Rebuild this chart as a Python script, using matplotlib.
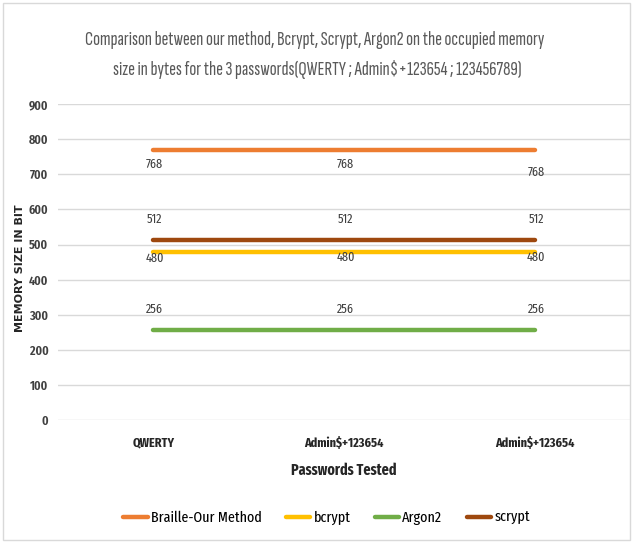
import matplotlib.pyplot as plt
from matplotlib.patches import Rectangle

plt.rcParams['font.family'] = ['Fira Sans Extra Condensed', 'DejaVu Sans']

passwords = ["QWERTY", "Admin$+123654", "Admin$+123654"]
braille = [768, 768, 768]
bcrypt = [480, 480, 480]
argon2 = [256, 256, 256]
scrypt = [512, 512, 512]

series = [
    ("Braille-Our Method", braille, "#ED7D31"),
    ("bcrypt", bcrypt, "#FFC000"),
    ("Argon2", argon2, "#70AD47"),
    ("scrypt", scrypt, "#9E480E"),
]
# data label offsets in points (dy) per series, per point
label_dy = {
    "Braille-Our Method": [-10, -10, -16],
    "bcrypt": [-5, -4, -4],
    "Argon2": [15, 15, 15],
    "scrypt": [15, 15, 15],
}

fig = plt.figure(figsize=(6.34, 5.42), dpi=100)
fig.patches.append(Rectangle((0.004, 0.004), 0.99, 0.99, transform=fig.transFigure,
                             fill=False, edgecolor="#d9d9d9", linewidth=1))
ax = fig.add_axes([0.0915, 0.225, 0.9025, 0.583])

x = list(range(len(passwords)))
handles = []
for name, vals, col in series:
    l, = ax.plot(x, vals, color=col, linewidth=3.2, solid_capstyle="round", label=name, zorder=3)
    handles.append(l)
    for i, v in enumerate(vals):
        ax.annotate(str(v), (i, v), xytext=(1, label_dy[name][i]), textcoords="offset points",
                    ha="center", va="center", fontsize=9.5, color="#404040", zorder=4)

ax.set_xlim(-0.5, 2.5)
ax.set_ylim(0, 900)
ax.set_yticks(range(0, 1000, 100))
ax.set_xticks(x)
ax.set_xticklabels(passwords, fontsize=9.5, fontweight="bold", color="#262626")
ax.tick_params(axis="y", labelsize=9.5, labelcolor="#404040", length=0, pad=7)
ax.tick_params(axis="x", length=0, pad=12)
for lab in ax.get_yticklabels():
    lab.set_fontweight("semibold")
ax.grid(axis="y", color="#d9d9d9", linewidth=1)
ax.set_axisbelow(True)
for s in ax.spines.values():
    s.set_visible(False)

ax.set_xlabel("Passwords Tested", fontsize=11, fontweight="bold", color="#262626", labelpad=9)
fig.text(0.031, 0.505, "MEMORY SIZE IN BIT", rotation=90, ha="center", va="center",
         fontsize=8, fontweight="bold", color="#262626", family=["DejaVu Sans"])

t1 = fig.text(0.497, 0.926, "Comparison between our method, Bcrypt, Scrypt, Argon2 on the occupied memory",
              ha="center", va="center", fontsize=14, color="#595959",
              family=["Sofia Sans Extra Condensed", "DejaVu Sans"])
t2 = fig.text(0.5, 0.871, "size in bytes for the 3 passwords(QWERTY ; Admin$+123654 ; 123456789)",
              ha="center", va="center", fontsize=14, color="#595959",
              family=["Sofia Sans Extra Condensed", "DejaVu Sans"])
# shrink title to the reference line width
r = fig.canvas.get_renderer()
w = t1.get_window_extent(r).width
for t in (t1, t2):
    t.set_fontsize(14 * 460 / w)

fig.legend(handles=handles, loc="center", bbox_to_anchor=(0.515, 0.044), ncol=4, frameon=False,
           fontsize=11, handlelength=1.6, handletextpad=0.2, columnspacing=1.6)

fig.savefig("out.png", dpi=100)
